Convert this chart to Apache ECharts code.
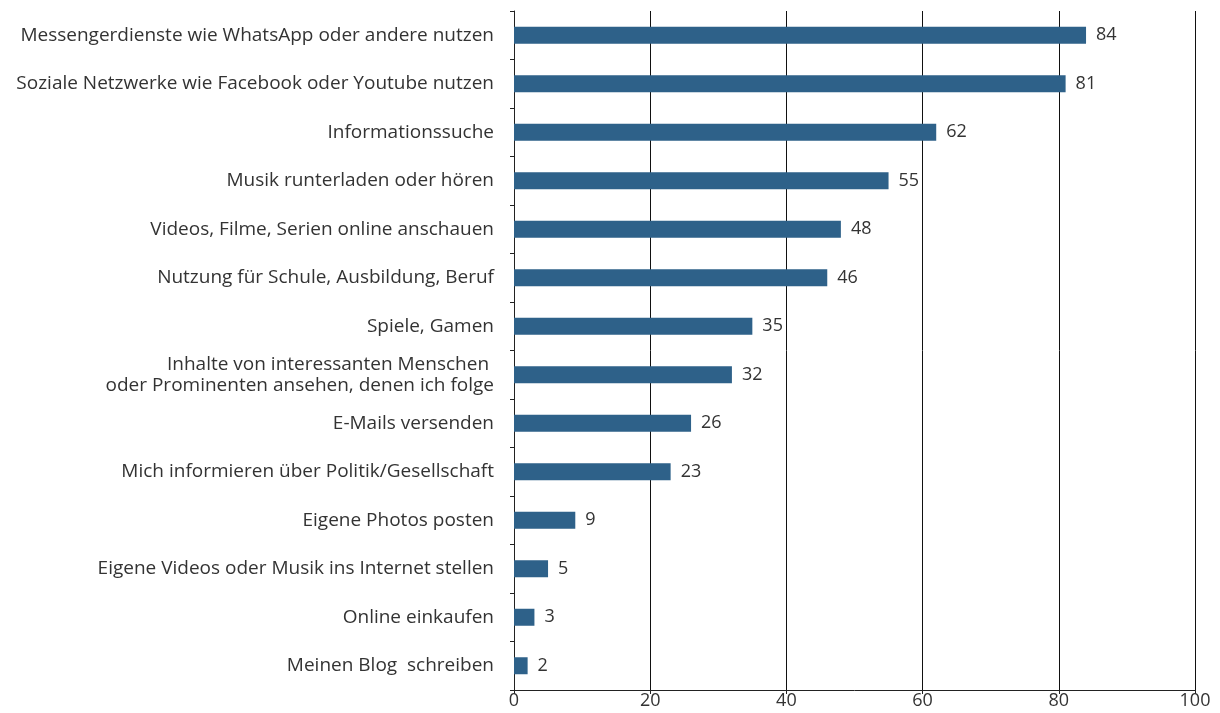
<!DOCTYPE html>
<html>
<head>
<meta charset="utf-8">
<script src="https://cdn.jsdelivr.net/npm/echarts@6/dist/echarts.min.js"></script>
<style>
  html, body { margin: 0; padding: 0; background: #fff; }
  #chart { width: 1220px; height: 713px; }
</style>
</head>
<body>
<div id="chart"></div>
<script>
// Internet activities, top to bottom
const categories = [
  'Messengerdienste wie WhatsApp oder andere nutzen',
  'Soziale Netzwerke wie Facebook oder Youtube nutzen',
  'Informationssuche',
  'Musik runterladen oder hören',
  'Videos, Filme, Serien online anschauen',
  'Nutzung für Schule, Ausbildung, Beruf',
  'Spiele, Gamen',
  'Inhalte von interessanten Menschen \noder Prominenten ansehen, denen ich folge',
  'E-Mails versenden',
  'Mich informieren über Politik/Gesellschaft',
  'Eigene Photos posten',
  'Eigene Videos oder Musik ins Internet stellen',
  'Online einkaufen',
  'Meinen Blog  schreiben'
];
const values = [84, 81, 62, 55, 48, 46, 35, 32, 26, 23, 9, 5, 3, 2];
const xTicks = { min: 0, max: 100, interval: 20 };

const chart = echarts.init(document.getElementById('chart'), null, { renderer: 'canvas' });
const font = '"Open Sans", Lato, sans-serif';

chart.setOption({
  animation: false,
  grid: { left: 514, right: 25, top: 11, bottom: 23, containLabel: false },
  xAxis: {
    type: 'value',
    min: xTicks.min, max: xTicks.max, interval: xTicks.interval,
    axisLine: { show: true, lineStyle: { color: '#222', width: 1 } },
    axisTick: { show: true, length: 4, lineStyle: { color: '#222' } },
    axisLabel: { color: '#333', fontSize: 18, fontFamily: font, margin: 2 },
    splitLine: { show: true, lineStyle: { color: '#111', width: 1 } }
  },
  yAxis: {
    type: 'category',
    inverse: true,
    data: categories,
    axisLine: { show: true, lineStyle: { color: '#222', width: 1 } },
    axisTick: { show: true, length: 4, inside: false, lineStyle: { color: '#222' } },
    axisLabel: {
      color: '#333', fontSize: 19, fontFamily: font, margin: 20,
      lineHeight: 21
    },
    splitLine: { show: false }
  },
  series: [{
    type: 'bar',
    data: values,
    barWidth: 17,
    itemStyle: { color: '#2e6189' },
    label: {
      show: true, position: 'right', distance: 10,
      color: '#333', fontSize: 18, fontFamily: font
    }
  }]
});
</script>
</body>
</html>
